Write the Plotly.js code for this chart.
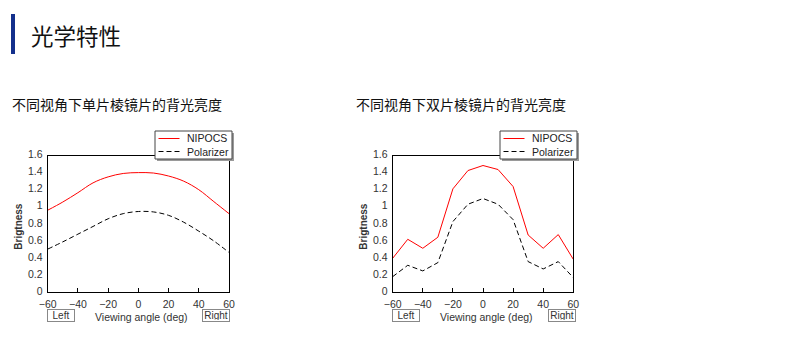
<!DOCTYPE html>
<html>
<head>
<meta charset="utf-8">
<script src="https://cdn.plot.ly/plotly-3.0.1.min.js"></script>
<style>
html,body{margin:0;padding:0;background:#fff;}
#chart{width:802px;height:355px;}
</style>
</head>
<body>
<div id="chart"></div>
<script>
// ---- data ----
const angles = [-60, -50, -40, -30, -20, -10, 0, 10, 20, 30, 40, 50, 60];
const singleNipocs    = [0.96, 1.056, 1.165, 1.28, 1.35, 1.39, 1.40, 1.395, 1.36, 1.30, 1.20, 1.06, 0.92];
const singlePolarizer = [0.505, 0.59, 0.68, 0.77, 0.86, 0.92, 0.945, 0.94, 0.90, 0.82, 0.715, 0.60, 0.466];
const doubleNipocs    = [0.398, 0.62, 0.515, 0.644, 1.21, 1.424, 1.483, 1.436, 1.237, 0.67, 0.515, 0.675, 0.386];
const doublePolarizer = [0.183, 0.316, 0.25, 0.347, 0.827, 1.03, 1.097, 1.03, 0.85, 0.359, 0.273, 0.359, 0.172];
const seriesNames = ["NIPOCS", "Polarizer"];
const xTicks = [-60, -40, -20, 0, 20, 40, 60];
const yTicks = [0, 0.2, 0.4, 0.6, 0.8, 1, 1.2, 1.4, 1.6];
const pageTitle = "光学特性";
const chartTitles = ["不同视角下单片棱镜片的背光亮度", "不同视角下双片棱镜片的背光亮度"];
const xTitle = "Viewing angle (deg)";
const yTitle = "Brigtness";

// ---- helpers ----
const W = 802, H = 355;
const px = x => x / W;
const py = y => 1 - y / H;
const tickFont = {family: "Liberation Sans, Arial, sans-serif", size: 10.5, color: "#333"};

const redLine = {color: "#ff0000", width: 1};
const blackDash = {color: "#000", width: 1, dash: "5px,3px"};

const traces = [
  {x: angles, y: singleNipocs, name: seriesNames[0], mode: "lines", line: Object.assign({shape: "spline", smoothing: 1}, redLine), xaxis: "x", yaxis: "y", showlegend: false},
  {x: angles, y: singlePolarizer, name: seriesNames[1], mode: "lines", line: Object.assign({shape: "spline", smoothing: 1}, blackDash), xaxis: "x", yaxis: "y", showlegend: false},
  {x: angles, y: doubleNipocs, name: seriesNames[0], mode: "lines", line: redLine, xaxis: "x2", yaxis: "y2", showlegend: false},
  {x: angles, y: doublePolarizer, name: seriesNames[1], mode: "lines", line: blackDash, xaxis: "x2", yaxis: "y2", showlegend: false}
];

function xAxis(domain, anchor) {
  return {
    domain: domain, anchor: anchor, range: [-60, 60], tickvals: xTicks,
    ticks: "inside", ticklen: 4, tickcolor: "#000", tickwidth: 1,
    showline: true, linecolor: "#000", linewidth: 1, mirror: true,
    showgrid: false, zeroline: false, tickfont: tickFont, ticklabelstandoff: 2, fixedrange: true
  };
}
function yAxis(domain, anchor) {
  return {
    domain: domain, anchor: anchor, range: [0, 1.6], tickvals: yTicks,
    ticks: "", showline: true, linecolor: "#000", linewidth: 1, mirror: true,
    showgrid: false, zeroline: false, tickfont: tickFont, ticklabelstandoff: 2, ticklabelshift: -1, fixedrange: true
  };
}

const plots = [
  {x0: 47.7, x1: 229, legendX: 155, title: chartTitles[0], titleX: 9.5, leftBox: 61, rightBox: 216.5},
  {x0: 392.7, x1: 573.3, legendX: 500, title: chartTitles[1], titleX: 353.5, leftBox: 405.5, rightBox: 562}
];
const yTop = 155.5, yBot = 292.3;

const shapes = [
  {type: "rect", xref: "paper", yref: "paper", x0: px(11), x1: px(15), y0: py(54), y1: py(14), fillcolor: "#14308c", line: {width: 0}}
];
const annotations = [
  {xref: "paper", yref: "paper", x: px(28.5), y: py(35), xanchor: "left", yanchor: "middle", showarrow: false,
   text: pageTitle, font: {family: "Noto Sans CJK SC", size: 22.5, color: "#111"}}
];

plots.forEach(p => {
  annotations.push({xref: "paper", yref: "paper", x: px(p.titleX), y: py(104), xanchor: "left", yanchor: "middle", showarrow: false,
    text: p.title, font: {family: "Noto Sans CJK SC", size: 14, color: "#111"}});
  annotations.push({xref: "paper", yref: "paper", x: px((p.x0 + p.x1) / 2 + 3), y: py(317), xanchor: "center", yanchor: "middle", showarrow: false,
    text: xTitle, font: {family: "Liberation Sans, Arial, sans-serif", size: 10.5, color: "#333"}});
  annotations.push({xref: "paper", yref: "paper", x: px(p.x0 - 30), y: py(226), xanchor: "center", yanchor: "middle", showarrow: false,
    textangle: -90, text: "<b>" + yTitle + "</b>", font: {family: "Liberation Sans, Arial, sans-serif", size: 10, color: "#333"}});
  [[p.leftBox, "Left"], [p.rightBox, "Right"]].forEach(([cx, t]) => {
    annotations.push({xref: "paper", yref: "paper", x: px(cx), y: py(315), xanchor: "center", yanchor: "middle", showarrow: false,
      text: t, width: 24, height: 9, borderpad: 1, bordercolor: "#888", borderwidth: 1, bgcolor: "#fff",
      font: {family: "Liberation Sans, Arial, sans-serif", size: 10, color: "#333"}});
  });
  const lx = p.legendX, lw = 77, ly0 = 131, ly1 = 159;
  shapes.push({type: "rect", xref: "paper", yref: "paper", x0: px(lx + 2), x1: px(lx + lw + 2), y0: py(ly1 + 2), y1: py(ly0 + 2), fillcolor: "#9a9a9a", line: {width: 0}, layer: "above"});
  shapes.push({type: "rect", xref: "paper", yref: "paper", x0: px(lx), x1: px(lx + lw), y0: py(ly1), y1: py(ly0), fillcolor: "#fff", line: {color: "#444", width: 1}, layer: "above"});
  shapes.push({type: "line", xref: "paper", yref: "paper", x0: px(lx + 3.5), x1: px(lx + 24.5), y0: py(138.5), y1: py(138.5), line: redLine, layer: "above"});
  shapes.push({type: "line", xref: "paper", yref: "paper", x0: px(lx + 3.5), x1: px(lx + 24.5), y0: py(151.5), y1: py(151.5), line: blackDash, layer: "above"});
  annotations.push({xref: "paper", yref: "paper", x: px(lx + 29.5), y: py(138.5), xanchor: "left", yanchor: "middle", showarrow: false,
    text: seriesNames[0], font: {family: "Liberation Sans, Arial, sans-serif", size: 10.5, color: "#222"}});
  annotations.push({xref: "paper", yref: "paper", x: px(lx + 29.5), y: py(151.5), xanchor: "left", yanchor: "middle", showarrow: false,
    text: seriesNames[1], font: {family: "Liberation Sans, Arial, sans-serif", size: 10.5, color: "#222"}});
});

const layout = {
  width: W, height: H,
  margin: {l: 0, r: 0, t: 0, b: 0},
  paper_bgcolor: "#fff", plot_bgcolor: "#fff",
  showlegend: false,
  xaxis: xAxis([px(plots[0].x0), px(plots[0].x1)], "y"),
  yaxis: yAxis([py(yBot), py(yTop)], "x"),
  xaxis2: xAxis([px(plots[1].x0), px(plots[1].x1)], "y2"),
  yaxis2: yAxis([py(yBot), py(yTop)], "x2"),
  shapes: shapes,
  annotations: annotations
};

Plotly.newPlot("chart", traces, layout, {displayModeBar: false, staticPlot: true});
</script>
</body>
</html>
